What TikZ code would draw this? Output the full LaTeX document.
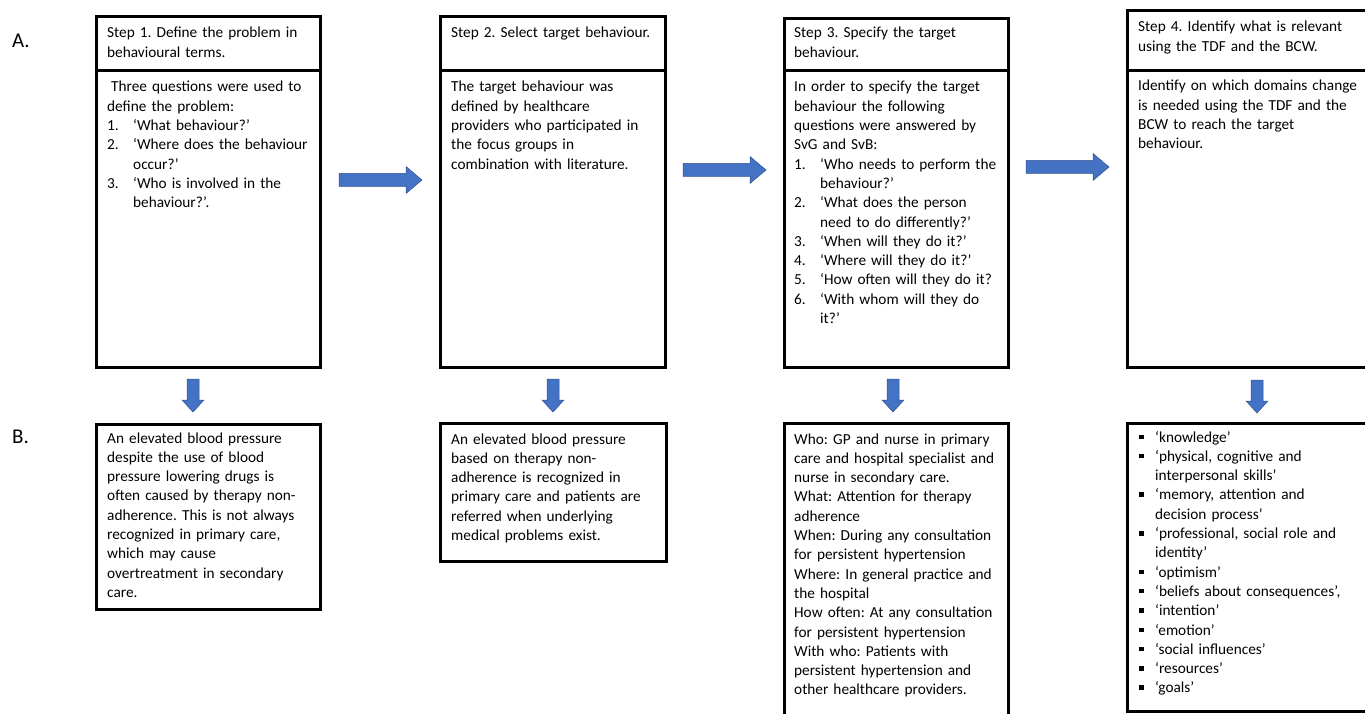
\documentclass[tikz,border=0pt]{standalone}
\usepackage{fontspec}
\setmainfont{Carlito}
\frenchspacing
\definecolor{arrowblue}{HTML}{4472C4}
\definecolor{arrowedge}{HTML}{2F528F}
\newcommand\num[1]{\makebox[26pt][l]{#1}}
\newcommand\hang{\hspace*{26pt}}
\newcommand\bul{\makebox[16pt][l]{\raisebox{3pt}{\rule{4.5pt}{4.5pt}}}}
\newcommand\bhang{\hspace*{16pt}}
\begin{document}
\begin{tikzpicture}[x=1pt,y=-1pt,
  box/.style={draw, line width=3pt, anchor=north west, inner sep=0pt, outer sep=0pt},
  txt/.style={anchor=base west, inner sep=0pt, text width=260pt, align=left,
    font=\fontsize{15.3}{19.3}\selectfont},
  lbl/.style={anchor=base west, inner sep=0pt, font=\fontsize{21}{24}\selectfont},
  barrow/.style={fill=arrowblue, draw=arrowedge, line width=0.5pt}]
\useasboundingbox (0,0) rectangle (1365,714);
\begin{scope}
\clip (0,0) rectangle (1365,714);
% labels
\node[lbl] (la) at (12,48) {A.};
\node[lbl] (lb) at (12,443) {B.};
% step boxes
\node[box, minimum width=224pt, minimum height=54pt] (s1h) at (96,17) {};
\node[box, minimum width=224pt, minimum height=296pt] (s1b) at (96,71) {};
\node[box, minimum width=225pt, minimum height=54pt] (s2h) at (440,17) {};
\node[box, minimum width=225pt, minimum height=296pt] (s2b) at (440,71) {};
\node[box, minimum width=224pt, minimum height=52pt] (s3h) at (784,19) {};
\node[box, minimum width=224pt, minimum height=296pt] (s3b) at (784,71) {};
\node[box, minimum width=250pt, minimum height=60pt] (s4h) at (1127,11) {};
\node[box, minimum width=250pt, minimum height=296pt] (s4b) at (1127,71) {};
% result boxes
\node[box, minimum width=224pt, minimum height=185pt] (b1) at (96,424) {};
\node[box, minimum width=226pt, minimum height=138pt] (b2) at (440,423) {};
\node[box, minimum width=224pt, minimum height=310pt] (b3) at (784,423) {};
\node[box, minimum width=250pt, minimum height=288pt] (b4) at (1127,423) {};
% header texts
\node[txt] (t1h) at (107,38) {Step 1. Define the problem in\\behavioural terms.};
\node[txt] (t2h) at (451,38) {Step 2. Select target behaviour.};
\node[txt] (t3h) at (794,38) {Step 3. Specify the target\\behaviour.};
\node[txt] (t4h) at (1138,32) {Step 4. Identify what is relevant\\using the TDF and the BCW.};
% body texts
\node[txt] (t1b) at (107,92) {\hspace*{4pt}Three questions were used to\\
define the problem:\\
\num{1.}‘What behaviour?’\\
\num{2.}‘Where does the behaviour\\
\hang occur?’\\
\num{3.}‘Who is involved in the\\
\hang behaviour?’.};
\node[txt] (t2b) at (451,92) {The target behaviour was\\
defined by healthcare\\
providers who participated in\\
the focus groups in\\
combination with literature.};
\node[txt] (t3b) at (794,92) {In order to specify the target\\
behaviour the following\\
questions were answered by\\
SvG and SvB:\\
\num{1.}‘Who needs to perform the\\
\hang behaviour?’\\
\num{2.}‘What does the person\\
\hang need to do differently?’\\
\num{3.}‘When will they do it?’\\
\num{4.}‘Where will they do it?’\\
\num{5.}‘How often will they do it?\\
\num{6.}‘With whom will they do\\
\hang it?’};
\node[txt] (t4b) at (1138,91) {Identify on which domains change\\
is needed using the TDF and the\\
BCW to reach the target\\
behaviour.};
% result texts
\node[txt] (r1) at (107,443) {An elevated blood pressure\\
despite the use of blood\\
pressure lowering drugs is\\
often caused by therapy non-\\
adherence. This is not always\\
recognized in primary care,\\
which may cause\\
overtreatment in secondary\\
care.};
\node[txt] (r2) at (451,444) {An elevated blood pressure\\
based on therapy non-\\
adherence is recognized in\\
primary care and patients are\\
referred when underlying\\
medical problems exist.};
\node[txt] (r3) at (794,444) {Who: GP and nurse in primary\\
care and hospital specialist and\\
nurse in secondary care.\\
What: Attention for therapy\\
adherence\\
When: During any consultation\\
for persistent hypertension\\
Where: In general practice and\\
the hospital\\
How often: At any consultation\\
for persistent hypertension\\
With who: Patients with\\
persistent hypertension and\\
other healthcare providers.};
\node[txt] (r4) at (1139,442) {\bul‘knowledge’\\
\bul‘physical, cognitive and\\
\bhang interpersonal skills’\\
\bul‘memory, attention and\\
\bhang decision process’\\
\bul‘professional, social role and\\
\bhang identity’\\
\bul‘optimism’\\
\bul‘beliefs about consequences’,\\
\bul‘intention’\\
\bul‘emotion’\\
\bul‘social influences’\\
\bul‘resources’\\
\bul‘goals’};
% horizontal block arrows
\coordinate (h1) at (339,180);
\coordinate (h2) at (683,170);
\coordinate (h3) at (1026,167);
\foreach \c in {h1,h2,h3}{
  \draw[barrow] (\c) ++(0,-6.5) -- ++(67,0) -- ++(0,-7) -- ++(16,13.5)
    -- ++(-16,13.5) -- ++(0,-7) -- ++(-67,0) -- cycle;
}
% downward block arrows
\coordinate (d1) at (193,379);
\coordinate (d2) at (553,379);
\coordinate (d3) at (893,379);
\coordinate (d4) at (1257,380);
\foreach \c in {d1,d2,d3,d4}{
  \draw[barrow] (\c) ++(-6,0) -- ++(0,21) -- ++(-5,0) -- ++(11,12)
    -- ++(11,-12) -- ++(-5,0) -- ++(0,-21) -- cycle;
}
\end{scope}
\end{tikzpicture}
\end{document}
